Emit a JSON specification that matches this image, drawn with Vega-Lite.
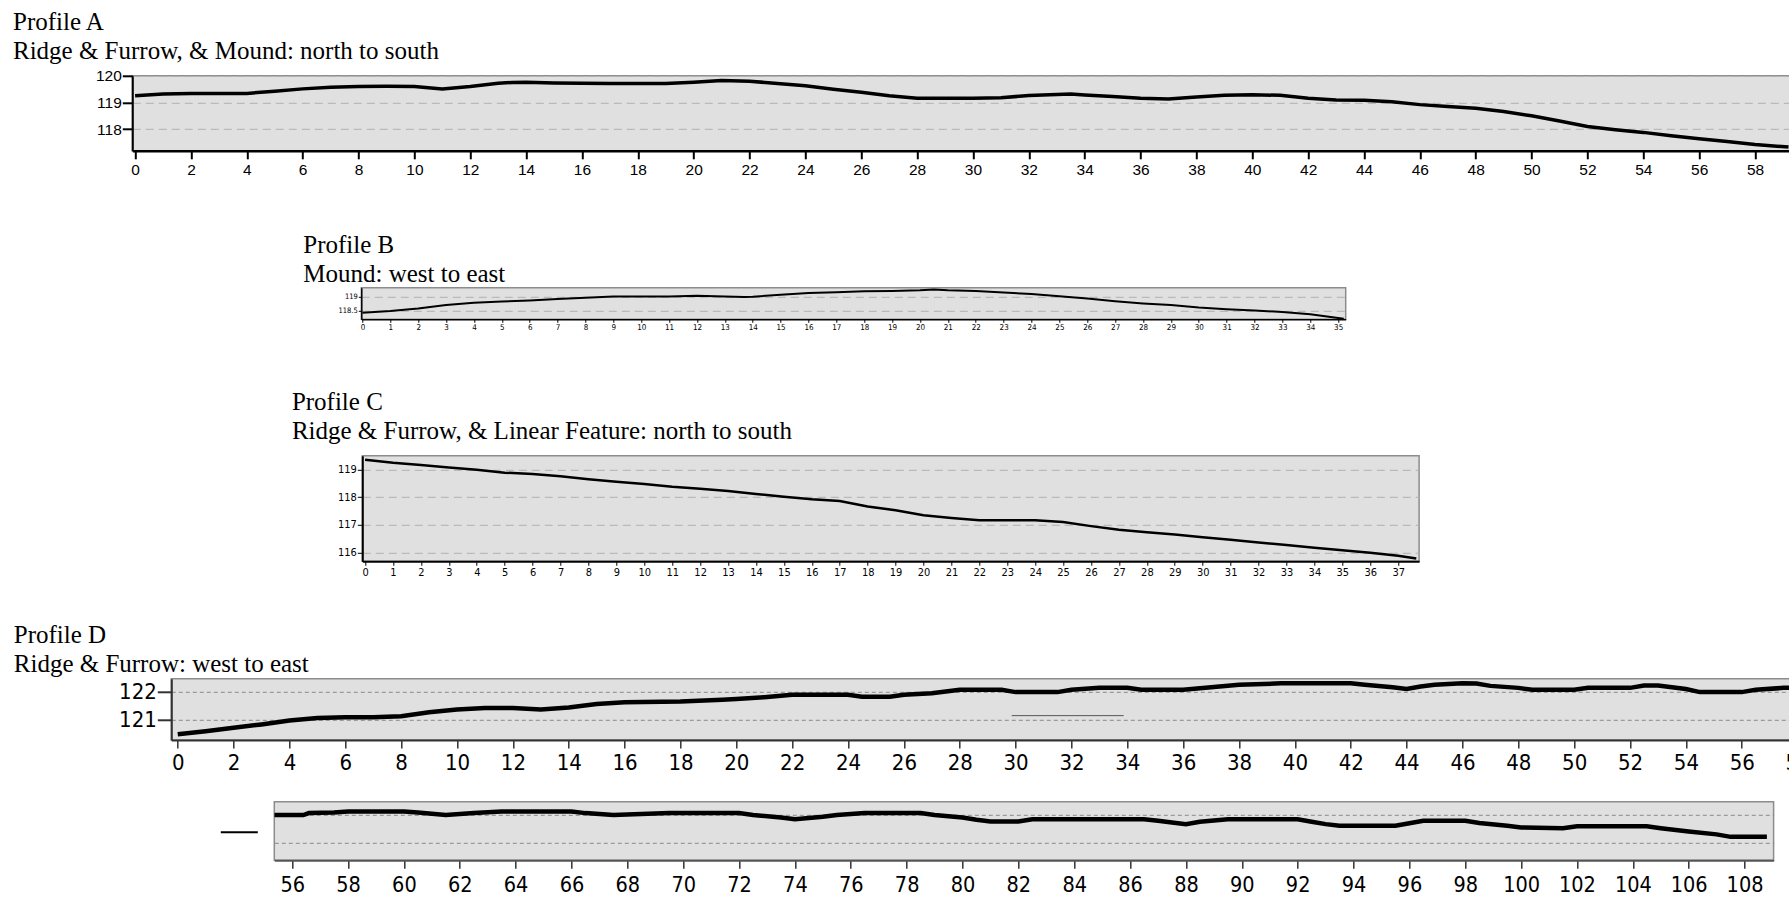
{
 "$schema": "https://vega.github.io/schema/vega-lite/v6.json",
 "padding": {"left": 11.3, "top": 8.8, "right": 0, "bottom": 0},
 "background": "white",
 "config": {
  "view": {"fill": "#e0e0e0", "stroke": "#8c8c8c", "strokeWidth": 1.5},
  "title": {"font": "Liberation Serif", "fontSize": 25, "fontWeight": "normal", "color": "#000", "anchor": "start", "frame": "group", "baseline": "alphabetic", "lineHeight": 29},
  "axis": {"labelFont": "Liberation Sans", "labelColor": "#000", "tickColor": "#000", "domainColor": "#000", "labelFlush": false, "labelOverlap": false, "labelBound": false, "gridColor": "#b0b0b0", "gridDash": [8, 5], "gridWidth": 1}
 },
 "spacing": 0,
 "bounds": "full",
 "align": "each",
 "vconcat": [
  {
   "spacing": 0, "bounds": "flush",
   "hconcat": [
    {"width": 1, "height": 155.55, "data": {"values": [{}]}, "mark": {"type": "point", "opacity": 0}, "view": {"fill": null, "stroke": null}},
    {
     "width": 1664.6,
     "height": 75,
     "title": {"text": ["Profile A", "Ridge & Furrow, & Mound: north to south"], "dx": -119.3, "offset": 4.6},
     "data": {"values": [
      {"d": 0, "e": 119.25}, {"d": 1, "e": 119.32}, {"d": 2, "e": 119.34}, {"d": 3, "e": 119.34}, {"d": 4, "e": 119.34},
      {"d": 5, "e": 119.42}, {"d": 6, "e": 119.51}, {"d": 7, "e": 119.57}, {"d": 8, "e": 119.6}, {"d": 9, "e": 119.61},
      {"d": 10, "e": 119.6}, {"d": 11, "e": 119.51}, {"d": 12, "e": 119.6}, {"d": 13, "e": 119.72}, {"d": 13.5, "e": 119.75},
      {"d": 14, "e": 119.76}, {"d": 15, "e": 119.73}, {"d": 16, "e": 119.72}, {"d": 17, "e": 119.71}, {"d": 18, "e": 119.71},
      {"d": 19, "e": 119.71}, {"d": 20, "e": 119.76}, {"d": 21, "e": 119.82}, {"d": 22, "e": 119.8}, {"d": 23, "e": 119.71},
      {"d": 24, "e": 119.63}, {"d": 25, "e": 119.5}, {"d": 26, "e": 119.38}, {"d": 27, "e": 119.25}, {"d": 28, "e": 119.16},
      {"d": 29, "e": 119.16}, {"d": 30, "e": 119.16}, {"d": 31, "e": 119.18}, {"d": 32, "e": 119.26}, {"d": 33, "e": 119.3},
      {"d": 33.5, "e": 119.32}, {"d": 34, "e": 119.28}, {"d": 35, "e": 119.22}, {"d": 36, "e": 119.16}, {"d": 37, "e": 119.13},
      {"d": 38, "e": 119.21}, {"d": 39, "e": 119.27}, {"d": 40, "e": 119.29}, {"d": 41, "e": 119.27}, {"d": 42, "e": 119.16},
      {"d": 43, "e": 119.09}, {"d": 44, "e": 119.08}, {"d": 45, "e": 119.03}, {"d": 46, "e": 118.92}, {"d": 47, "e": 118.85},
      {"d": 48, "e": 118.78}, {"d": 49, "e": 118.66}, {"d": 50, "e": 118.5}, {"d": 51, "e": 118.31}, {"d": 52, "e": 118.1},
      {"d": 53, "e": 117.98}, {"d": 54, "e": 117.88}, {"d": 55, "e": 117.75}, {"d": 56, "e": 117.64}, {"d": 57, "e": 117.54},
      {"d": 58, "e": 117.43}, {"d": 59.2, "e": 117.33}
     ]},
     "mark": {"type": "line", "color": "#000", "strokeWidth": 3.5, "clip": true},
     "encoding": {
      "x": {"field": "d", "type": "quantitative", "scale": {"domain": [-0.1, 59.5], "nice": false, "zero": false},
       "axis": {"title": null, "values": [0,2,4,6,8,10,12,14,16,18,20,22,24,26,28,30,32,34,36,38,40,42,44,46,48,50,52,54,56,58], "grid": false, "tickSize": 8, "tickWidth": 2, "domainWidth": 2.5, "labelFontSize": 15.5, "labelPadding": 4}},
      "y": {"field": "e", "type": "quantitative", "scale": {"domain": [117.19, 120], "nice": false, "zero": false},
       "axis": {"title": null, "values": [118, 119, 120], "grid": true, "tickSize": 10, "tickWidth": 2, "domainWidth": 2, "labelFontSize": 15.5, "labelPadding": 1}}
     }
    }
   ]
  },
  {
   "spacing": 0, "bounds": "flush",
   "hconcat": [
    {"width": 229.7, "height": 100.15, "data": {"values": [{}]}, "mark": {"type": "point", "opacity": 0}, "view": {"fill": null, "stroke": null}},
    {
     "width": 984.4,
     "height": 31.5,
     "title": {"text": ["Profile B", "Mound: west to east"], "dx": -58, "offset": 1},
     "data": {"values": [
      {"d": 0, "e": 118.42}, {"d": 1, "e": 118.48}, {"d": 2, "e": 118.57}, {"d": 3, "e": 118.7}, {"d": 4, "e": 118.78},
      {"d": 5, "e": 118.83}, {"d": 6, "e": 118.87}, {"d": 7, "e": 118.92}, {"d": 8, "e": 118.97}, {"d": 9, "e": 119.01},
      {"d": 10, "e": 119.01}, {"d": 11, "e": 119.01}, {"d": 12, "e": 119.04}, {"d": 13, "e": 119.01}, {"d": 13.7, "e": 118.99},
      {"d": 14, "e": 119.0}, {"d": 15, "e": 119.08}, {"d": 16, "e": 119.14}, {"d": 17, "e": 119.17}, {"d": 18, "e": 119.2},
      {"d": 19, "e": 119.21}, {"d": 20, "e": 119.24}, {"d": 20.5, "e": 119.27}, {"d": 21, "e": 119.24}, {"d": 22, "e": 119.21},
      {"d": 23, "e": 119.16}, {"d": 24, "e": 119.1}, {"d": 25, "e": 119.02}, {"d": 26, "e": 118.94}, {"d": 27, "e": 118.84},
      {"d": 28, "e": 118.76}, {"d": 29, "e": 118.7}, {"d": 30, "e": 118.61}, {"d": 31, "e": 118.55}, {"d": 32, "e": 118.5},
      {"d": 33, "e": 118.45}, {"d": 34, "e": 118.36}, {"d": 35.2, "e": 118.2}
     ]},
     "mark": {"type": "line", "color": "#000", "strokeWidth": 2, "clip": true},
     "encoding": {
      "x": {"field": "d", "type": "quantitative", "scale": {"domain": [-0.04, 35.27], "nice": false, "zero": false},
       "axis": {"title": null, "values": [0,1,2,3,4,5,6,7,8,9,10,11,12,13,14,15,16,17,18,19,20,21,22,23,24,25,26,27,28,29,30,31,32,33,34,35], "grid": false, "tickSize": 3, "tickWidth": 1, "domainWidth": 1.5, "labelFont": "Liberation Sans Narrow, Arial Narrow, Noto Sans Condensed, DejaVu Sans Condensed, Liberation Sans", "labelFontSize": 8, "labelPadding": 1}},
      "y": {"field": "e", "type": "quantitative", "scale": {"domain": [118.18, 119.33], "nice": false, "zero": false},
       "axis": {"title": null, "values": [118.5, 119], "format": "~f", "grid": true, "tickSize": 3, "tickWidth": 1, "domainWidth": 1.5, "labelFont": "Liberation Sans Narrow, Arial Narrow, Noto Sans Condensed, DejaVu Sans Condensed, Liberation Sans", "labelFontSize": 7.5, "labelPadding": 1}}
     }
    }
   ]
  },
  {
   "spacing": 0, "bounds": "flush",
   "hconcat": [
    {"width": 230.8, "height": 165.55, "data": {"values": [{}]}, "mark": {"type": "point", "opacity": 0}, "view": {"fill": null, "stroke": null}},
    {
     "width": 1056.8,
     "height": 105.5,
     "title": {"text": ["Profile C", "Ridge & Furrow, & Linear Feature: north to south"], "dx": -70.4, "offset": 12},
     "data": {"values": [
      {"d": 0, "e": 119.35}, {"d": 1, "e": 119.24}, {"d": 2, "e": 119.16}, {"d": 3, "e": 119.07}, {"d": 4, "e": 118.99},
      {"d": 5, "e": 118.88}, {"d": 6, "e": 118.83}, {"d": 7, "e": 118.75}, {"d": 8, "e": 118.64}, {"d": 9, "e": 118.55},
      {"d": 10, "e": 118.47}, {"d": 11, "e": 118.37}, {"d": 12, "e": 118.3}, {"d": 13, "e": 118.22}, {"d": 14, "e": 118.11},
      {"d": 15, "e": 118.01}, {"d": 16, "e": 117.92}, {"d": 17, "e": 117.86}, {"d": 18, "e": 117.66}, {"d": 19, "e": 117.52},
      {"d": 20, "e": 117.34}, {"d": 21, "e": 117.24}, {"d": 22, "e": 117.16}, {"d": 23, "e": 117.16}, {"d": 24, "e": 117.16},
      {"d": 25, "e": 117.1}, {"d": 26, "e": 116.95}, {"d": 27, "e": 116.82}, {"d": 28, "e": 116.73}, {"d": 29, "e": 116.65},
      {"d": 30, "e": 116.55}, {"d": 31, "e": 116.46}, {"d": 32, "e": 116.36}, {"d": 33, "e": 116.27}, {"d": 34, "e": 116.17},
      {"d": 35, "e": 116.08}, {"d": 36, "e": 115.99}, {"d": 37, "e": 115.88}, {"d": 37.65, "e": 115.78}
     ]},
     "mark": {"type": "line", "color": "#000", "strokeWidth": 2.5, "clip": true},
     "encoding": {
      "x": {"field": "d", "type": "quantitative", "scale": {"domain": [-0.1, 37.75], "nice": false, "zero": false},
       "axis": {"title": null, "values": [0,1,2,3,4,5,6,7,8,9,10,11,12,13,14,15,16,17,18,19,20,21,22,23,24,25,26,27,28,29,30,31,32,33,34,35,36,37], "grid": false, "tickSize": 4, "tickWidth": 1, "domainWidth": 2, "labelFont": "Liberation Sans Narrow, Arial Narrow, Noto Sans Condensed, DejaVu Sans Condensed, Liberation Sans", "labelFontSize": 11, "labelPadding": 1}},
      "y": {"field": "e", "type": "quantitative", "scale": {"domain": [115.68, 119.49], "nice": false, "zero": false},
       "axis": {"title": null, "values": [116, 117, 118, 119], "grid": true, "tickSize": 5, "tickWidth": 1, "domainWidth": 2, "labelFont": "Liberation Sans Narrow, Arial Narrow, Noto Sans Condensed, DejaVu Sans Condensed, Liberation Sans", "labelFontSize": 11, "labelPadding": 1}}
     }
    }
   ]
  },
  {
   "spacing": 0, "bounds": "flush",
   "hconcat": [
    {"width": 39.2, "height": 119.85, "data": {"values": [{}]}, "mark": {"type": "point", "opacity": 0}, "view": {"fill": null, "stroke": null}},
    {
     "width": 1640.3,
     "height": 61.2,
     "title": {"text": ["Profile D", "Ridge & Furrow: west to east"], "dx": -157.5, "offset": 1.5},
     "layer": [
      {
       "data": {"values": [{"d": 29.86, "e": 121.15}, {"d": 33.87, "e": 121.15}]},
       "mark": {"type": "line", "color": "#555", "strokeWidth": 1, "clip": true},
       "encoding": {"x": {"field": "d", "type": "quantitative"}, "y": {"field": "e", "type": "quantitative"}}
      },
      {
       "data": {"values": [
        {"d": 0, "e": 120.49}, {"d": 1, "e": 120.6}, {"d": 2, "e": 120.72}, {"d": 3, "e": 120.84}, {"d": 4, "e": 120.98},
        {"d": 5, "e": 121.07}, {"d": 6, "e": 121.09}, {"d": 7, "e": 121.09}, {"d": 8, "e": 121.13}, {"d": 9, "e": 121.27},
        {"d": 10, "e": 121.37}, {"d": 11, "e": 121.42}, {"d": 12, "e": 121.42}, {"d": 13, "e": 121.37}, {"d": 14, "e": 121.44},
        {"d": 15, "e": 121.56}, {"d": 16, "e": 121.62}, {"d": 18, "e": 121.65}, {"d": 19.5, "e": 121.71}, {"d": 20, "e": 121.74},
        {"d": 21, "e": 121.8}, {"d": 22, "e": 121.89}, {"d": 24, "e": 121.89}, {"d": 24.5, "e": 121.82}, {"d": 25.5, "e": 121.82},
        {"d": 26, "e": 121.89}, {"d": 27, "e": 121.94}, {"d": 28, "e": 122.06}, {"d": 29.5, "e": 122.06}, {"d": 30, "e": 121.98},
        {"d": 31.5, "e": 121.98}, {"d": 32, "e": 122.06}, {"d": 33, "e": 122.13}, {"d": 34, "e": 122.13}, {"d": 34.5, "e": 122.06},
        {"d": 36, "e": 122.06}, {"d": 37, "e": 122.15}, {"d": 38, "e": 122.24}, {"d": 39.5, "e": 122.29}, {"d": 42, "e": 122.29},
        {"d": 42.5, "e": 122.24}, {"d": 43.5, "e": 122.15}, {"d": 44, "e": 122.09}, {"d": 44.5, "e": 122.18}, {"d": 45, "e": 122.24},
        {"d": 46, "e": 122.29}, {"d": 46.5, "e": 122.28}, {"d": 47, "e": 122.2}, {"d": 48, "e": 122.13}, {"d": 48.5, "e": 122.06},
        {"d": 50, "e": 122.06}, {"d": 50.5, "e": 122.13}, {"d": 52, "e": 122.13}, {"d": 52.5, "e": 122.21}, {"d": 53, "e": 122.21},
        {"d": 54, "e": 122.09}, {"d": 54.5, "e": 121.98}, {"d": 56, "e": 121.98}, {"d": 56.5, "e": 122.06}, {"d": 57.5, "e": 122.13},
        {"d": 58.5, "e": 122.13}
       ]},
       "mark": {"type": "line", "color": "#000", "strokeWidth": 4.5, "clip": true},
       "encoding": {
        "x": {"field": "d", "type": "quantitative", "scale": {"domain": [-0.23, 58.5], "nice": false, "zero": false},
         "axis": {"title": null, "values": [0,2,4,6,8,10,12,14,16,18,20,22,24,26,28,30,32,34,36,38,40,42,44,46,48,50,52,54,56,58], "grid": false, "tickSize": 8, "tickWidth": 1.5, "tickColor": "#333", "domainColor": "#333", "domainWidth": 2, "labelFont": "Liberation Sans Narrow, Arial Narrow, Noto Sans Condensed, DejaVu Sans Condensed, Liberation Sans", "labelFontSize": 22, "labelPadding": 5}},
        "y": {"field": "e", "type": "quantitative", "scale": {"domain": [120.29, 122.45], "nice": false, "zero": false},
         "axis": {"title": null, "values": [121, 122], "grid": true, "gridDash": [4, 3], "gridColor": "#8a8a8a", "tickSize": 14, "tickWidth": 2, "tickColor": "#333", "domainColor": "#333", "domainWidth": 2, "labelFont": "Liberation Sans Narrow, Arial Narrow, Noto Sans Condensed, DejaVu Sans Condensed, Liberation Sans", "labelFontSize": 22, "labelPadding": 1}}
       }
      }
     ]
    }
   ]
  },
  {
   "spacing": 0, "bounds": "flush",
   "hconcat": [
    {"width": 142.7, "height": 1, "data": {"values": [{}]}, "mark": {"type": "point", "opacity": 0}, "view": {"fill": null, "stroke": null}},
    {
     "width": 1499.3,
     "height": 58.5,
     "data": {"values": [
      {"d": 55.36, "e": 121.99}, {"d": 56.4, "e": 121.99}, {"d": 56.6, "e": 122.06}, {"d": 57.5, "e": 122.08}, {"d": 58, "e": 122.12},
      {"d": 60, "e": 122.12}, {"d": 60.5, "e": 122.08}, {"d": 61.5, "e": 121.99}, {"d": 62.5, "e": 122.06}, {"d": 63.5, "e": 122.12},
      {"d": 66, "e": 122.12}, {"d": 66.5, "e": 122.06}, {"d": 67.5, "e": 121.99}, {"d": 69.5, "e": 122.06}, {"d": 72, "e": 122.06},
      {"d": 72.5, "e": 121.99}, {"d": 73.5, "e": 121.9}, {"d": 74, "e": 121.84}, {"d": 75, "e": 121.93}, {"d": 75.5, "e": 121.99},
      {"d": 76.5, "e": 122.06}, {"d": 78.5, "e": 122.06}, {"d": 79, "e": 121.99}, {"d": 80, "e": 121.9}, {"d": 80.5, "e": 121.82},
      {"d": 81, "e": 121.76}, {"d": 82, "e": 121.76}, {"d": 82.5, "e": 121.84}, {"d": 86.5, "e": 121.84}, {"d": 87, "e": 121.78},
      {"d": 87.5, "e": 121.72}, {"d": 88, "e": 121.66}, {"d": 88.5, "e": 121.75}, {"d": 89.5, "e": 121.84}, {"d": 92, "e": 121.84},
      {"d": 92.5, "e": 121.75}, {"d": 93, "e": 121.66}, {"d": 93.5, "e": 121.6}, {"d": 95.5, "e": 121.6}, {"d": 96, "e": 121.69},
      {"d": 96.5, "e": 121.78}, {"d": 98, "e": 121.78}, {"d": 98.5, "e": 121.7}, {"d": 99.5, "e": 121.6}, {"d": 100, "e": 121.54},
      {"d": 101.5, "e": 121.51}, {"d": 102, "e": 121.58}, {"d": 104.5, "e": 121.58}, {"d": 105, "e": 121.51}, {"d": 106, "e": 121.39},
      {"d": 107, "e": 121.29}, {"d": 107.5, "e": 121.2}, {"d": 108.8, "e": 121.2}
     ]},
     "layer": [
      {
       "mark": {"type": "line", "color": "#000", "strokeWidth": 4.5, "clip": true},
       "encoding": {
        "x": {"field": "d", "type": "quantitative", "scale": {"domain": [55.36, 109.04], "nice": false, "zero": false},
         "axis": {"title": null, "values": [56,58,60,62,64,66,68,70,72,74,76,78,80,82,84,86,88,90,92,94,96,98,100,102,104,106,108], "grid": false, "tickSize": 8, "tickWidth": 1.5, "tickColor": "#333", "domainColor": "#555", "domainWidth": 2, "labelFont": "Liberation Sans Narrow, Arial Narrow, Noto Sans Condensed, DejaVu Sans Condensed, Liberation Sans", "labelFontSize": 21.5, "labelPadding": 6}},
        "y": {"field": "e", "type": "quantitative", "scale": {"domain": [120.35, 122.47], "nice": false, "zero": false},
         "axis": {"title": null, "orient": "left", "values": [121, 122], "grid": true, "gridDash": [4, 3], "gridColor": "#8a8a8a", "ticks": false, "labels": false, "domain": false}}
       }
      },
      {
       "mark": {"type": "line", "strokeOpacity": 0, "clip": true},
       "encoding": {
        "x": {"field": "d", "type": "quantitative"},
        "y": {"field": "e", "type": "quantitative", "axis": {"title": null, "orient": "left", "offset": 17, "values": [121.38], "grid": false, "tickSize": 37, "tickWidth": 2, "tickColor": "#000", "labels": false, "domain": false}}
       }
      }
     ],
     "resolve": {"axis": {"y": "independent"}}
    }
   ]
  }
 ]
}
